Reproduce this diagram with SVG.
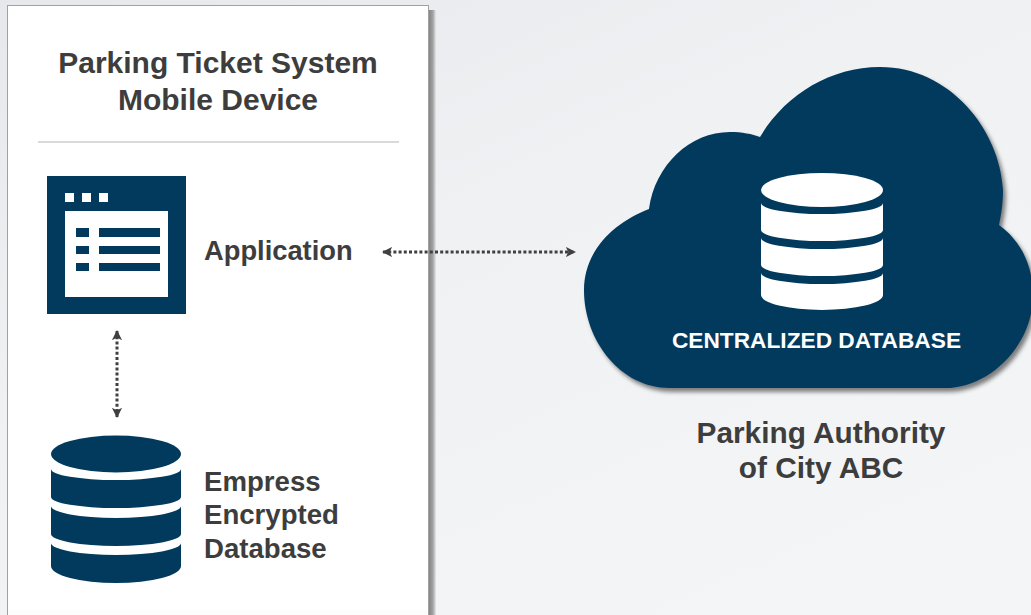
<svg xmlns="http://www.w3.org/2000/svg" width="1031" height="615" viewBox="0 0 1031 615">
<style>
.t{font-family:"Liberation Sans",Arial,sans-serif;font-weight:700;fill:#3d3d3d}
.d{fill:#023a5e}
.w{fill:#fff}
.c{fill:none;stroke:#404040;stroke-width:3;stroke-dasharray:3 2.2}
</style>
<defs>
<linearGradient id="bg" x1="0" y1="0" x2="0.75" y2="1"><stop offset="0" stop-color="#e6e8ec"/><stop offset="0.45" stop-color="#eff1f3"/><stop offset="1" stop-color="#f4f5f7"/></linearGradient>
<linearGradient id="sh" x1="0" y1="0" x2="1" y2="0"><stop offset="0" stop-color="#858585"/><stop offset="0.55" stop-color="#a2a2a2"/><stop offset="1" stop-color="#e8e9ec"/></linearGradient>
<filter id="blur" x="-5%" y="-5%" width="110%" height="110%"><feGaussianBlur stdDeviation="2"/></filter>
<marker id="ah" viewBox="0 0 10 10" refX="9" refY="5" markerWidth="3.4" markerHeight="3.4" orient="auto-start-reverse" markerUnits="strokeWidth"><path d="M0 0L10 5L0 10L2.5 5Z" fill="#404040"/></marker>
</defs>
<rect width="1031" height="615" fill="url(#bg)"/>
<g id="panel">
<rect x="429" y="10" width="7" height="605" fill="url(#sh)"/>
<rect x="7.5" y="5.5" width="421" height="610" fill="#fff" stroke="#a0a1a3" stroke-width="1"/>
<rect x="8" y="610" width="420" height="5" fill="#fcfcfc"/>
<path d="M38 142H399" stroke="#b4b4b4" stroke-width="1" fill="none"/>
<text class="t" font-size="30" x="218" y="73" text-anchor="middle">Parking Ticket System</text>
<text class="t" font-size="30" x="218" y="110" text-anchor="middle">Mobile Device</text>
</g>
<g id="application">
<rect class="d" x="47" y="176" width="139" height="138"/>
<rect class="w" x="65" y="211" width="103" height="86"/>
<rect class="w" x="65" y="193" width="9" height="9"/><rect class="w" x="82" y="193" width="9" height="9"/><rect class="w" x="99" y="193" width="9" height="9"/>
<rect class="d" x="76" y="228" width="13" height="9"/><rect class="d" x="99" y="228" width="61" height="9"/>
<rect class="d" x="76" y="246" width="13" height="8"/><rect class="d" x="99" y="246" width="61" height="8"/>
<rect class="d" x="76" y="263" width="13" height="8"/><rect class="d" x="99" y="263" width="61" height="8"/>
<text class="t" font-size="27.3" x="204" y="260">Application</text>
</g>
<g id="empress-db">
<ellipse class="d" cx="116" cy="454" rx="65" ry="18.5"/>
<path class="d" d="M51 469A65 11 0 0 0 181 469V497A65 11 0 0 1 51 497Z"/>
<path class="d" d="M51 506A65 12 0 0 0 181 506V534A65 12 0 0 1 51 534Z"/>
<path class="d" d="M51 543A65 12 0 0 0 181 543V566A65 17 0 0 1 51 566Z"/>
<text class="t" font-size="27.6" x="204" y="490.5">Empress</text>
<text class="t" font-size="27.6" x="204" y="524">Encrypted</text>
<text class="t" font-size="27.6" x="204" y="557.5">Database</text>
</g>
<g id="cloud">
<path d="M649 209C655 165 690 132 730 132C742 132 752 134 760 137C785 95 830 67 880 67C950 67 1000 130 1003 190C1003 205 1001 215 999 225C1020 240 1033 265 1033 295C1033 345 990 388 945 388H670C620 388 584 340 584 290C584 250 615 222 649 209Z" fill="#555" opacity=".75" transform="translate(3 4)" filter="url(#blur)"/>
<path class="d" d="M649 209C655 165 690 132 730 132C742 132 752 134 760 137C785 95 830 67 880 67C950 67 1000 130 1003 190C1003 205 1001 215 999 225C1020 240 1033 265 1033 295C1033 345 990 388 945 388H670C620 388 584 340 584 290C584 250 615 222 649 209Z"/>
<ellipse class="w" cx="822" cy="190" rx="61" ry="17"/>
<path class="w" d="M761 203A61 11 0 0 0 883 203V230A61 11 0 0 1 761 230Z"/>
<path class="w" d="M761 238A61 11 0 0 0 883 238V265A61 11 0 0 1 761 265Z"/>
<path class="w" d="M761 273A61 11 0 0 0 883 273V295A61 15 0 0 1 761 295Z"/>
<text x="816.5" y="348" text-anchor="middle" font-size="22.7" font-family="Liberation Sans,Arial,sans-serif" font-weight="700" fill="#fff">CENTRALIZED DATABASE</text>
</g>
<g id="authority">
<text class="t" font-size="29.8" x="821" y="443" text-anchor="middle">Parking Authority</text>
<text class="t" font-size="29.8" x="821" y="478" text-anchor="middle">of City ABC</text>
</g>
<g id="connectors">
<path class="c" d="M383 252H575" marker-start="url(#ah)" marker-end="url(#ah)"/>
<path class="c" d="M117 331V417" marker-start="url(#ah)" marker-end="url(#ah)"/>
</g>
</svg>
